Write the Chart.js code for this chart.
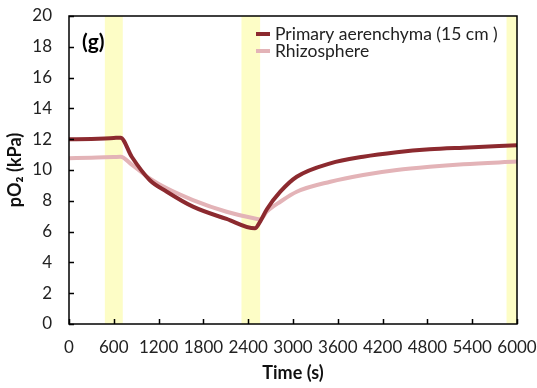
<!DOCTYPE html>
<html><head><meta charset="utf-8">
<script src="https://cdn.jsdelivr.net/npm/chart.js@4/dist/chart.umd.min.js"></script>
<style>html,body{margin:0;padding:0;background:#fff}#wrap{width:537px;height:388px;position:relative}</style>
</head><body><div id="wrap"><canvas id="c" width="537" height="388"></canvas></div>
<script>
const times = [0, 300, 480, 600, 690, 840, 1080, 1310, 1660, 2110, 2490, 2560, 2650, 2830, 3050, 3500, 3940, 4390, 4830, 5280, 6000];
const primary = [11.99, 12.02, 12.05, 12.08, 12.1, 10.86, 9.35, 8.59, 7.62, 6.82, 6.21, 6.65, 7.45, 8.59, 9.56, 10.43, 10.86, 11.15, 11.34, 11.45, 11.6];
const rhizo = [10.76, 10.8, 10.82, 10.84, 10.86, 10.35, 9.46, 8.81, 8.05, 7.29, 6.85, 6.8, 7.3, 7.94, 8.59, 9.24, 9.68, 10.0, 10.21, 10.37, 10.55];
const seriesLabels = ["Primary aerenchyma (15 cm )", "Rhizosphere"];
const bandStarts = [480, 2310, 5860];
const bandEnds = [720, 2560, 6000];
const xTicks = [0, 600, 1200, 1800, 2400, 3000, 3600, 4200, 4800, 5400, 6000];
const yTicks = [0, 2, 4, 6, 8, 10, 12, 14, 16, 18, 20];
const panelLabel = "(g)";

const FONT = "Lato, 'Open Sans', sans-serif";
const colors = ["#8c2a2f", "#e3b3b7"];

const bandsPlugin = {
  id: 'bands',
  beforeDatasetsDraw(chart) {
    const {ctx, chartArea: a, scales: {x}} = chart;
    ctx.save();
    ctx.fillStyle = "#fdfdc6";
    for (let i = 0; i < bandStarts.length; i++) {
      const x0 = x.getPixelForValue(bandStarts[i]);
      const x1 = x.getPixelForValue(bandEnds[i]);
      ctx.fillRect(x0, a.top, x1 - x0, a.bottom - a.top);
    }
    ctx.restore();
  },
  afterDatasetsDraw(chart) {
    const {ctx, chartArea: a, scales: {x, y}} = chart;
    ctx.save();
    ctx.strokeStyle = "#000";
    ctx.lineWidth = 1.5;
    ctx.strokeRect(a.left, a.top, a.right - a.left, a.bottom - a.top);
    ctx.beginPath();
    xTicks.forEach(v => { const px = Math.round(x.getPixelForValue(v)) + 0.5; ctx.moveTo(px, a.bottom); ctx.lineTo(px, a.bottom - 5); });
    yTicks.forEach(v => { const py = Math.round(y.getPixelForValue(v)) + 0.5; ctx.moveTo(a.left, py); ctx.lineTo(a.left + 5, py); });
    ctx.stroke();
    ctx.fillStyle = "#000";
    ctx.font = "bold 21px " + FONT;
    ctx.textBaseline = "middle";
    ctx.fillText(panelLabel, a.left + 13, a.top + 26);
    ctx.font = "17.5px " + FONT;
    const lx = 256, ly = [34, 51];
    chart.data.datasets.forEach((ds, i) => {
      ctx.strokeStyle = ds.borderColor;
      ctx.lineWidth = 4;
      ctx.beginPath(); ctx.moveTo(lx, ly[i]); ctx.lineTo(lx + 14, ly[i]); ctx.stroke();
      ctx.fillStyle = "#222";
      ctx.fillText(ds.label, lx + 19, ly[i]);
    });
    ctx.restore();
  }
};

new Chart(document.getElementById('c'), {
  type: 'line',
  data: {
    datasets: [
      { label: seriesLabels[0], data: times.map((t, i) => ({x: t, y: primary[i]})), borderColor: colors[0], borderWidth: 4, pointRadius: 0, cubicInterpolationMode: 'monotone' },
      { label: seriesLabels[1], data: times.map((t, i) => ({x: t, y: rhizo[i]})), borderColor: colors[1], borderWidth: 4, pointRadius: 0, cubicInterpolationMode: 'monotone' }
    ]
  },
  options: {
    responsive: false, animation: false,
    layout: { padding: { top: 16, right: 20, left: 0, bottom: 0 } },
    plugins: { legend: { display: false }, tooltip: { enabled: false } },
    scales: {
      x: {
        type: 'linear', min: 0, max: 6000,
        afterBuildTicks(s) { s.ticks = xTicks.map(v => ({value: v})); },
        afterFit(s) { s.height = 64; s.paddingLeft = 0; s.paddingRight = 0; },
        grid: { display: false, drawTicks: false },
        border: { display: false },
        ticks: { color: "#222", font: { family: FONT, size: 17 }, padding: 13, maxRotation: 0, autoSkip: false, callback: v => String(v) },
        title: { display: true, text: "Time (s)", color: "#111", font: { family: FONT, size: 18, weight: 'bold' }, padding: { top: 1 } }
      },
      y: {
        min: 0, max: 20,
        afterBuildTicks(s) { s.ticks = yTicks.map(v => ({value: v})); },
        afterFit(s) { s.width = 69; s.paddingTop = 0; s.paddingBottom = 0; },
        grid: { display: false, drawTicks: false },
        border: { display: false },
        ticks: { color: "#222", font: { family: FONT, size: 17 }, padding: 17, callback: v => String(v) },
        title: { display: true, text: "pO\u2082 (kPa)", color: "#111", font: { family: FONT, size: 18, weight: 'bold' }, padding: { bottom: 0 } }
      }
    }
  },
  plugins: [bandsPlugin]
});
</script></body></html>
